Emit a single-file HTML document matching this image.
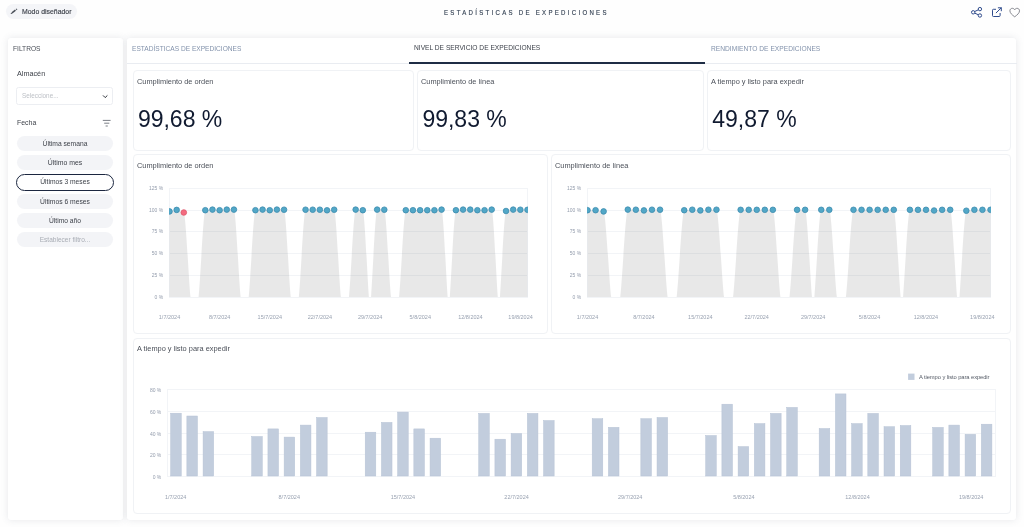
<!DOCTYPE html>
<html lang="es"><head><meta charset="utf-8"><title>Estadísticas de expediciones</title>
<style>
html,body{margin:0;padding:0;}
body{width:1024px;height:527px;position:relative;overflow:hidden;background:#fefefe;font-family:"Liberation Sans",sans-serif;}
.t{position:absolute;white-space:nowrap;}
.panel{position:absolute;background:#fff;border-radius:3px;box-shadow:0 0 7px rgba(110,116,135,0.165);}
.card{position:absolute;background:#fff;border:1px solid #f0f2f5;border-radius:4px;box-sizing:border-box;}
.pill{position:absolute;left:16.5px;width:96.6px;height:15px;border-radius:8px;background:#f3f4f7;box-sizing:border-box;}
svg{position:absolute;left:0;top:0;}
.ax{font-family:"Liberation Sans",sans-serif;font-size:6.0px;fill:#99a2b1;}
.ay{font-family:"Liberation Sans",sans-serif;font-size:5.0px;fill:#939cac;}
.lg{font-family:"Liberation Sans",sans-serif;font-size:5.8px;fill:#555b66;}
</style></head><body>

<div style="position:absolute;left:5.5px;top:4px;width:71px;height:14.6px;border-radius:8px;background:#f4f5f8"></div>
<span class="t" style="top:7.75px;font-size:7.3px;line-height:8.76px;color:#3a3f48;left:22.00px;transform:scaleX(0.9455);transform-origin:left center;-webkit-text-stroke:0.15px #3a3f48;">Modo diseñador</span>
<span class="t" style="top:9.10px;font-size:6.9px;line-height:8.28px;color:#354254;letter-spacing:2.602px;left:444.30px;transform:scaleX(0.8800);transform-origin:left center;-webkit-text-stroke:0.15px #354254;">ESTADÍSTICAS DE EXPEDICIONES</span>
<div class="panel" style="left:7.9px;top:37.8px;width:114.7px;height:482.4px"></div>
<div class="panel" style="left:127.2px;top:37.8px;width:889px;height:482.4px"></div>
<div style="position:absolute;left:127px;top:62.7px;width:889.5px;height:1px;background:#e9ecf1"></div>
<div style="position:absolute;left:408.8px;top:62px;width:296.6px;height:2px;background:#1f2d45"></div>
<span class="t" style="top:44.50px;font-size:7.2px;line-height:8.64px;color:#8292ab;left:132.00px;transform:scaleX(0.9164);transform-origin:left center;">ESTADÍSTICAS DE EXPEDICIONES</span>
<span class="t" style="top:43.60px;font-size:7.2px;line-height:8.64px;color:#3a3f48;left:413.80px;transform:scaleX(0.9244);transform-origin:left center;">NIVEL DE SERVICIO DE EXPEDICIONES</span>
<span class="t" style="top:44.50px;font-size:7.2px;line-height:8.64px;color:#8292ab;left:711.00px;transform:scaleX(0.9257);transform-origin:left center;">RENDIMIENTO DE EXPEDICIONES</span>
<span class="t" style="top:44.95px;font-size:7.3px;line-height:8.76px;color:#4a4f58;left:13.00px;transform:scaleX(0.9081);transform-origin:left center;">FILTROS</span>
<span class="t" style="top:69.50px;font-size:7.4px;line-height:8.88px;color:#3b3f47;left:16.90px;transform:scaleX(0.9795);transform-origin:left center;">Almacén</span>
<div style="position:absolute;left:16.4px;top:86.7px;width:96.9px;height:18.5px;border:1px solid #eceef2;border-radius:2.5px;box-sizing:border-box;background:#fff"></div>
<span class="t" style="top:92.40px;font-size:7.0px;line-height:8.40px;color:#bdc0c6;left:22.00px;transform:scaleX(0.9107);transform-origin:left center;">Seleccione...</span>
<span class="t" style="top:118.50px;font-size:7.4px;line-height:8.88px;color:#3b3f47;left:16.90px;transform:scaleX(0.9384);transform-origin:left center;">Fecha</span>
<div class="pill" style="top:136px"></div>
<span class="t" style="top:139.75px;font-size:7.0px;line-height:8.40px;color:#3b3f47;left:-135.20px;width:400px;text-align:center;transform:scaleX(0.9597);transform-origin:center center;">Última semana</span>
<div class="pill" style="top:155px"></div>
<span class="t" style="top:158.75px;font-size:7.0px;line-height:8.40px;color:#3b3f47;left:-135.20px;width:400px;text-align:center;transform:scaleX(0.9856);transform-origin:center center;">Último mes</span>
<div class="pill" style="top:173.5px;left:16.3px;width:97.4px;height:17.4px;background:#fff;border:1.4px solid #1c2740;border-radius:9px"></div>
<span class="t" style="top:178.45px;font-size:7.0px;line-height:8.40px;color:#3b3f47;left:-135.20px;width:400px;text-align:center;transform:scaleX(0.9568);transform-origin:center center;">Últimos 3 meses</span>
<div class="pill" style="top:194.4px"></div>
<span class="t" style="top:198.15px;font-size:7.0px;line-height:8.40px;color:#3b3f47;left:-135.20px;width:400px;text-align:center;transform:scaleX(0.9665);transform-origin:center center;">Últimos 6 meses</span>
<div class="pill" style="top:213.3px"></div>
<span class="t" style="top:217.05px;font-size:7.0px;line-height:8.40px;color:#3b3f47;left:-135.20px;width:400px;text-align:center;transform:scaleX(0.9564);transform-origin:center center;">Último año</span>
<div class="pill" style="top:232.2px"></div>
<span class="t" style="top:235.95px;font-size:7.0px;line-height:8.40px;color:#a9adb5;left:-135.20px;width:400px;text-align:center;transform:scaleX(0.9339);transform-origin:center center;">Establecer filtro...</span>
<div class="card" style="left:133px;top:70px;width:281px;height:81px"></div>
<div class="card" style="left:417px;top:70px;width:287px;height:81px"></div>
<div class="card" style="left:707px;top:70px;width:303.5px;height:81px"></div>
<div class="card" style="left:133px;top:154px;width:415px;height:180.4px"></div>
<div class="card" style="left:551px;top:154px;width:459.5px;height:180.4px"></div>
<div class="card" style="left:133px;top:338px;width:877.5px;height:176px"></div>
<span class="t" style="top:77.70px;font-size:7.4px;line-height:8.88px;color:#4a4f58;left:136.60px;transform:scaleX(0.9999);transform-origin:left center;">Cumplimiento de orden</span>
<span class="t" style="top:77.70px;font-size:7.4px;line-height:8.88px;color:#4a4f58;left:421.00px;transform:scaleX(0.9983);transform-origin:left center;">Cumplimiento de línea</span>
<span class="t" style="top:77.70px;font-size:7.4px;line-height:8.88px;color:#4a4f58;left:711.00px;transform:scaleX(1.0004);transform-origin:left center;">A tiempo y listo para expedir</span>
<span class="t" style="top:105.50px;font-size:23.0px;line-height:27.60px;color:#101a30;left:137.90px;">99,68 %</span>
<span class="t" style="top:105.50px;font-size:23.0px;line-height:27.60px;color:#101a30;left:422.40px;">99,83 %</span>
<span class="t" style="top:105.50px;font-size:23.0px;line-height:27.60px;color:#101a30;left:712.20px;">49,87 %</span>
<span class="t" style="top:161.60px;font-size:7.4px;line-height:8.88px;color:#4a4f58;left:136.60px;transform:scaleX(0.9999);transform-origin:left center;">Cumplimiento de orden</span>
<span class="t" style="top:161.60px;font-size:7.4px;line-height:8.88px;color:#4a4f58;left:555.00px;transform:scaleX(0.9983);transform-origin:left center;">Cumplimiento de línea</span>
<span class="t" style="top:345.30px;font-size:7.4px;line-height:8.88px;color:#4a4f58;left:136.60px;transform:scaleX(1.0004);transform-origin:left center;">A tiempo y listo para expedir</span>
<svg width="1024" height="527" viewBox="0 0 1024 527">
<rect x="169" y="188" width="359" height="1" fill="#f2f4f7"/>
<rect x="169" y="210" width="359" height="1" fill="#f2f4f7"/>
<rect x="169" y="231" width="359" height="1" fill="#f2f4f7"/>
<rect x="169" y="253" width="359" height="1" fill="#f2f4f7"/>
<rect x="169" y="275" width="359" height="1" fill="#f2f4f7"/>
<rect x="169" y="297" width="359" height="1" fill="#f2f4f7"/>
<rect x="169" y="188" width="1" height="110" fill="#f2f4f7"/>
<rect x="527" y="188" width="1" height="110" fill="#f2f4f7"/>
<clipPath id="c169"><rect x="169" y="180" width="359" height="117.00"/></clipPath>
<path d="M169.5 307.0 L169.50 211.40 L176.66 209.90 L183.82 212.50 C185.97 212.50 189.55 299.00 190.98 299.00 L198.14 299.00 C199.57 299.00 203.15 210.20 205.30 210.20 L212.46 209.60 L219.62 210.20 L226.78 209.60 L233.94 209.60 C236.09 209.60 239.67 299.00 241.10 299.00 L248.26 299.00 C249.69 299.00 253.27 210.20 255.42 210.20 L262.58 209.60 L269.74 210.20 L276.90 209.60 L284.06 209.70 C286.21 209.70 289.79 299.00 291.22 299.00 L298.38 299.00 C299.81 299.00 303.39 209.70 305.54 209.70 L312.70 209.70 L319.86 209.70 L327.02 210.30 L334.18 209.70 C336.33 209.70 339.91 299.00 341.34 299.00 L348.50 299.00 C349.93 299.00 353.51 209.60 355.66 209.60 L362.82 210.20 C364.97 210.20 368.55 307.00 369.98 307.00 C371.41 307.00 374.99 209.60 377.14 209.60 L384.30 209.70 C386.45 209.70 390.03 299.00 391.46 299.00 L398.62 299.00 C400.05 299.00 403.63 210.20 405.78 210.20 L412.94 210.20 L420.10 210.20 L427.26 210.20 L434.42 210.20 L441.58 209.60 C443.73 209.60 447.31 307.00 448.74 307.00 C450.17 307.00 453.75 210.20 455.90 210.20 L463.06 209.60 L470.22 209.60 L477.38 210.20 L484.54 210.20 L491.70 209.60 C493.85 209.60 497.43 307.00 498.86 307.00 C500.29 307.00 503.87 211.00 506.02 211.00 L513.18 209.60 L520.34 209.70 L527.50 209.80 L527.5 307.0Z" fill="#000" fill-opacity="0.09" clip-path="url(#c169)"/>
<g clip-path="url(#c169)"><circle cx="169.50" cy="211.40" r="2.8" fill="#52a7c7" stroke="#3c8cae" stroke-width="0.8"/><circle cx="176.66" cy="209.90" r="2.8" fill="#52a7c7" stroke="#3c8cae" stroke-width="0.8"/><circle cx="183.82" cy="212.50" r="2.8" fill="#f36b7f" stroke="#de566b" stroke-width="0.8"/><circle cx="205.30" cy="210.20" r="2.8" fill="#52a7c7" stroke="#3c8cae" stroke-width="0.8"/><circle cx="212.46" cy="209.60" r="2.8" fill="#52a7c7" stroke="#3c8cae" stroke-width="0.8"/><circle cx="219.62" cy="210.20" r="2.8" fill="#52a7c7" stroke="#3c8cae" stroke-width="0.8"/><circle cx="226.78" cy="209.60" r="2.8" fill="#52a7c7" stroke="#3c8cae" stroke-width="0.8"/><circle cx="233.94" cy="209.60" r="2.8" fill="#52a7c7" stroke="#3c8cae" stroke-width="0.8"/><circle cx="255.42" cy="210.20" r="2.8" fill="#52a7c7" stroke="#3c8cae" stroke-width="0.8"/><circle cx="262.58" cy="209.60" r="2.8" fill="#52a7c7" stroke="#3c8cae" stroke-width="0.8"/><circle cx="269.74" cy="210.20" r="2.8" fill="#52a7c7" stroke="#3c8cae" stroke-width="0.8"/><circle cx="276.90" cy="209.60" r="2.8" fill="#52a7c7" stroke="#3c8cae" stroke-width="0.8"/><circle cx="284.06" cy="209.70" r="2.8" fill="#52a7c7" stroke="#3c8cae" stroke-width="0.8"/><circle cx="305.54" cy="209.70" r="2.8" fill="#52a7c7" stroke="#3c8cae" stroke-width="0.8"/><circle cx="312.70" cy="209.70" r="2.8" fill="#52a7c7" stroke="#3c8cae" stroke-width="0.8"/><circle cx="319.86" cy="209.70" r="2.8" fill="#52a7c7" stroke="#3c8cae" stroke-width="0.8"/><circle cx="327.02" cy="210.30" r="2.8" fill="#52a7c7" stroke="#3c8cae" stroke-width="0.8"/><circle cx="334.18" cy="209.70" r="2.8" fill="#52a7c7" stroke="#3c8cae" stroke-width="0.8"/><circle cx="355.66" cy="209.60" r="2.8" fill="#52a7c7" stroke="#3c8cae" stroke-width="0.8"/><circle cx="362.82" cy="210.20" r="2.8" fill="#52a7c7" stroke="#3c8cae" stroke-width="0.8"/><circle cx="377.14" cy="209.60" r="2.8" fill="#52a7c7" stroke="#3c8cae" stroke-width="0.8"/><circle cx="384.30" cy="209.70" r="2.8" fill="#52a7c7" stroke="#3c8cae" stroke-width="0.8"/><circle cx="405.78" cy="210.20" r="2.8" fill="#52a7c7" stroke="#3c8cae" stroke-width="0.8"/><circle cx="412.94" cy="210.20" r="2.8" fill="#52a7c7" stroke="#3c8cae" stroke-width="0.8"/><circle cx="420.10" cy="210.20" r="2.8" fill="#52a7c7" stroke="#3c8cae" stroke-width="0.8"/><circle cx="427.26" cy="210.20" r="2.8" fill="#52a7c7" stroke="#3c8cae" stroke-width="0.8"/><circle cx="434.42" cy="210.20" r="2.8" fill="#52a7c7" stroke="#3c8cae" stroke-width="0.8"/><circle cx="441.58" cy="209.60" r="2.8" fill="#52a7c7" stroke="#3c8cae" stroke-width="0.8"/><circle cx="455.90" cy="210.20" r="2.8" fill="#52a7c7" stroke="#3c8cae" stroke-width="0.8"/><circle cx="463.06" cy="209.60" r="2.8" fill="#52a7c7" stroke="#3c8cae" stroke-width="0.8"/><circle cx="470.22" cy="209.60" r="2.8" fill="#52a7c7" stroke="#3c8cae" stroke-width="0.8"/><circle cx="477.38" cy="210.20" r="2.8" fill="#52a7c7" stroke="#3c8cae" stroke-width="0.8"/><circle cx="484.54" cy="210.20" r="2.8" fill="#52a7c7" stroke="#3c8cae" stroke-width="0.8"/><circle cx="491.70" cy="209.60" r="2.8" fill="#52a7c7" stroke="#3c8cae" stroke-width="0.8"/><circle cx="506.02" cy="211.00" r="2.8" fill="#52a7c7" stroke="#3c8cae" stroke-width="0.8"/><circle cx="513.18" cy="209.60" r="2.8" fill="#52a7c7" stroke="#3c8cae" stroke-width="0.8"/><circle cx="520.34" cy="209.70" r="2.8" fill="#52a7c7" stroke="#3c8cae" stroke-width="0.8"/><circle cx="527.50" cy="209.80" r="2.8" fill="#52a7c7" stroke="#3c8cae" stroke-width="0.8"/></g>
<text x="163.2" y="190.30" text-anchor="end" class="ay">125 %</text>
<text x="163.2" y="212.30" text-anchor="end" class="ay">100 %</text>
<text x="163.2" y="233.30" text-anchor="end" class="ay">75 %</text>
<text x="163.2" y="255.30" text-anchor="end" class="ay">50 %</text>
<text x="163.2" y="277.30" text-anchor="end" class="ay">25 %</text>
<text x="163.2" y="299.30" text-anchor="end" class="ay">0 %</text>
<text x="169.50" y="319.4" text-anchor="middle" class="ax" textLength="21.37" lengthAdjust="spacingAndGlyphs">1/7/2024</text>
<text x="219.65" y="319.4" text-anchor="middle" class="ax" textLength="21.37" lengthAdjust="spacingAndGlyphs">8/7/2024</text>
<text x="269.80" y="319.4" text-anchor="middle" class="ax" textLength="24.42" lengthAdjust="spacingAndGlyphs">15/7/2024</text>
<text x="319.95" y="319.4" text-anchor="middle" class="ax" textLength="24.42" lengthAdjust="spacingAndGlyphs">22/7/2024</text>
<text x="370.10" y="319.4" text-anchor="middle" class="ax" textLength="24.42" lengthAdjust="spacingAndGlyphs">29/7/2024</text>
<text x="420.25" y="319.4" text-anchor="middle" class="ax" textLength="21.37" lengthAdjust="spacingAndGlyphs">5/8/2024</text>
<text x="470.40" y="319.4" text-anchor="middle" class="ax" textLength="24.42" lengthAdjust="spacingAndGlyphs">12/8/2024</text>
<text x="520.55" y="319.4" text-anchor="middle" class="ax" textLength="24.42" lengthAdjust="spacingAndGlyphs">19/8/2024</text>
<rect x="587" y="188" width="404" height="1" fill="#f2f4f7"/>
<rect x="587" y="210" width="404" height="1" fill="#f2f4f7"/>
<rect x="587" y="231" width="404" height="1" fill="#f2f4f7"/>
<rect x="587" y="253" width="404" height="1" fill="#f2f4f7"/>
<rect x="587" y="275" width="404" height="1" fill="#f2f4f7"/>
<rect x="587" y="297" width="404" height="1" fill="#f2f4f7"/>
<rect x="587" y="188" width="1" height="110" fill="#f2f4f7"/>
<rect x="990" y="188" width="1" height="110" fill="#f2f4f7"/>
<clipPath id="c587"><rect x="587" y="180" width="404" height="117.00"/></clipPath>
<path d="M587.5 307.0 L587.50 210.20 L595.56 210.20 L603.62 211.40 C606.04 211.40 610.07 299.00 611.68 299.00 L619.74 299.00 C621.35 299.00 625.38 209.60 627.80 209.60 L635.86 209.70 L643.92 210.40 L651.98 209.70 L660.04 209.70 C662.46 209.70 666.49 299.00 668.10 299.00 L676.16 299.00 C677.77 299.00 681.80 210.20 684.22 210.20 L692.28 209.70 L700.34 210.40 L708.40 209.70 L716.46 209.70 C718.88 209.70 722.91 299.00 724.52 299.00 L732.58 299.00 C734.19 299.00 738.22 209.80 740.64 209.80 L748.70 209.80 L756.76 209.80 L764.82 209.80 L772.88 209.80 C775.30 209.80 779.33 299.00 780.94 299.00 L789.00 299.00 C790.61 299.00 794.64 209.80 797.06 209.80 L805.12 209.80 C807.54 209.80 811.57 307.00 813.18 307.00 C814.79 307.00 818.82 209.80 821.24 209.80 L829.30 209.80 C831.72 209.80 835.75 299.00 837.36 299.00 L845.42 299.00 C847.03 299.00 851.06 209.80 853.48 209.80 L861.54 209.80 L869.60 209.80 L877.66 209.80 L885.72 209.80 L893.78 209.80 C896.20 209.80 900.23 307.00 901.84 307.00 C903.45 307.00 907.48 209.80 909.90 209.80 L917.96 209.80 L926.02 209.80 L934.08 210.50 L942.14 209.80 L950.20 209.80 C952.62 209.80 956.65 307.00 958.26 307.00 C959.87 307.00 963.90 210.70 966.32 210.70 L974.38 209.80 L982.44 209.80 L990.50 209.80 L990.5 307.0Z" fill="#000" fill-opacity="0.09" clip-path="url(#c587)"/>
<g clip-path="url(#c587)"><circle cx="587.50" cy="210.20" r="2.8" fill="#52a7c7" stroke="#3c8cae" stroke-width="0.8"/><circle cx="595.56" cy="210.20" r="2.8" fill="#52a7c7" stroke="#3c8cae" stroke-width="0.8"/><circle cx="603.62" cy="211.40" r="2.8" fill="#52a7c7" stroke="#3c8cae" stroke-width="0.8"/><circle cx="627.80" cy="209.60" r="2.8" fill="#52a7c7" stroke="#3c8cae" stroke-width="0.8"/><circle cx="635.86" cy="209.70" r="2.8" fill="#52a7c7" stroke="#3c8cae" stroke-width="0.8"/><circle cx="643.92" cy="210.40" r="2.8" fill="#52a7c7" stroke="#3c8cae" stroke-width="0.8"/><circle cx="651.98" cy="209.70" r="2.8" fill="#52a7c7" stroke="#3c8cae" stroke-width="0.8"/><circle cx="660.04" cy="209.70" r="2.8" fill="#52a7c7" stroke="#3c8cae" stroke-width="0.8"/><circle cx="684.22" cy="210.20" r="2.8" fill="#52a7c7" stroke="#3c8cae" stroke-width="0.8"/><circle cx="692.28" cy="209.70" r="2.8" fill="#52a7c7" stroke="#3c8cae" stroke-width="0.8"/><circle cx="700.34" cy="210.40" r="2.8" fill="#52a7c7" stroke="#3c8cae" stroke-width="0.8"/><circle cx="708.40" cy="209.70" r="2.8" fill="#52a7c7" stroke="#3c8cae" stroke-width="0.8"/><circle cx="716.46" cy="209.70" r="2.8" fill="#52a7c7" stroke="#3c8cae" stroke-width="0.8"/><circle cx="740.64" cy="209.80" r="2.8" fill="#52a7c7" stroke="#3c8cae" stroke-width="0.8"/><circle cx="748.70" cy="209.80" r="2.8" fill="#52a7c7" stroke="#3c8cae" stroke-width="0.8"/><circle cx="756.76" cy="209.80" r="2.8" fill="#52a7c7" stroke="#3c8cae" stroke-width="0.8"/><circle cx="764.82" cy="209.80" r="2.8" fill="#52a7c7" stroke="#3c8cae" stroke-width="0.8"/><circle cx="772.88" cy="209.80" r="2.8" fill="#52a7c7" stroke="#3c8cae" stroke-width="0.8"/><circle cx="797.06" cy="209.80" r="2.8" fill="#52a7c7" stroke="#3c8cae" stroke-width="0.8"/><circle cx="805.12" cy="209.80" r="2.8" fill="#52a7c7" stroke="#3c8cae" stroke-width="0.8"/><circle cx="821.24" cy="209.80" r="2.8" fill="#52a7c7" stroke="#3c8cae" stroke-width="0.8"/><circle cx="829.30" cy="209.80" r="2.8" fill="#52a7c7" stroke="#3c8cae" stroke-width="0.8"/><circle cx="853.48" cy="209.80" r="2.8" fill="#52a7c7" stroke="#3c8cae" stroke-width="0.8"/><circle cx="861.54" cy="209.80" r="2.8" fill="#52a7c7" stroke="#3c8cae" stroke-width="0.8"/><circle cx="869.60" cy="209.80" r="2.8" fill="#52a7c7" stroke="#3c8cae" stroke-width="0.8"/><circle cx="877.66" cy="209.80" r="2.8" fill="#52a7c7" stroke="#3c8cae" stroke-width="0.8"/><circle cx="885.72" cy="209.80" r="2.8" fill="#52a7c7" stroke="#3c8cae" stroke-width="0.8"/><circle cx="893.78" cy="209.80" r="2.8" fill="#52a7c7" stroke="#3c8cae" stroke-width="0.8"/><circle cx="909.90" cy="209.80" r="2.8" fill="#52a7c7" stroke="#3c8cae" stroke-width="0.8"/><circle cx="917.96" cy="209.80" r="2.8" fill="#52a7c7" stroke="#3c8cae" stroke-width="0.8"/><circle cx="926.02" cy="209.80" r="2.8" fill="#52a7c7" stroke="#3c8cae" stroke-width="0.8"/><circle cx="934.08" cy="210.50" r="2.8" fill="#52a7c7" stroke="#3c8cae" stroke-width="0.8"/><circle cx="942.14" cy="209.80" r="2.8" fill="#52a7c7" stroke="#3c8cae" stroke-width="0.8"/><circle cx="950.20" cy="209.80" r="2.8" fill="#52a7c7" stroke="#3c8cae" stroke-width="0.8"/><circle cx="966.32" cy="210.70" r="2.8" fill="#52a7c7" stroke="#3c8cae" stroke-width="0.8"/><circle cx="974.38" cy="209.80" r="2.8" fill="#52a7c7" stroke="#3c8cae" stroke-width="0.8"/><circle cx="982.44" cy="209.80" r="2.8" fill="#52a7c7" stroke="#3c8cae" stroke-width="0.8"/><circle cx="990.50" cy="209.80" r="2.8" fill="#52a7c7" stroke="#3c8cae" stroke-width="0.8"/></g>
<text x="581.2" y="190.30" text-anchor="end" class="ay">125 %</text>
<text x="581.2" y="212.30" text-anchor="end" class="ay">100 %</text>
<text x="581.2" y="233.30" text-anchor="end" class="ay">75 %</text>
<text x="581.2" y="255.30" text-anchor="end" class="ay">50 %</text>
<text x="581.2" y="277.30" text-anchor="end" class="ay">25 %</text>
<text x="581.2" y="299.30" text-anchor="end" class="ay">0 %</text>
<text x="587.50" y="319.4" text-anchor="middle" class="ax" textLength="21.37" lengthAdjust="spacingAndGlyphs">1/7/2024</text>
<text x="643.90" y="319.4" text-anchor="middle" class="ax" textLength="21.37" lengthAdjust="spacingAndGlyphs">8/7/2024</text>
<text x="700.30" y="319.4" text-anchor="middle" class="ax" textLength="24.42" lengthAdjust="spacingAndGlyphs">15/7/2024</text>
<text x="756.70" y="319.4" text-anchor="middle" class="ax" textLength="24.42" lengthAdjust="spacingAndGlyphs">22/7/2024</text>
<text x="813.10" y="319.4" text-anchor="middle" class="ax" textLength="24.42" lengthAdjust="spacingAndGlyphs">29/7/2024</text>
<text x="869.50" y="319.4" text-anchor="middle" class="ax" textLength="21.37" lengthAdjust="spacingAndGlyphs">5/8/2024</text>
<text x="925.90" y="319.4" text-anchor="middle" class="ax" textLength="24.42" lengthAdjust="spacingAndGlyphs">12/8/2024</text>
<text x="982.30" y="319.4" text-anchor="middle" class="ax" textLength="24.42" lengthAdjust="spacingAndGlyphs">19/8/2024</text>
<rect x="167" y="476" width="829" height="1" fill="#f2f4f7"/>
<text x="161.3" y="478.60" text-anchor="end" class="ay">0 %</text>
<rect x="167" y="454" width="829" height="1" fill="#f2f4f7"/>
<text x="161.3" y="456.60" text-anchor="end" class="ay">20 %</text>
<rect x="167" y="433" width="829" height="1" fill="#f2f4f7"/>
<text x="161.3" y="435.60" text-anchor="end" class="ay">40 %</text>
<rect x="167" y="411" width="829" height="1" fill="#f2f4f7"/>
<text x="161.3" y="413.60" text-anchor="end" class="ay">60 %</text>
<rect x="167" y="389" width="829" height="1" fill="#f2f4f7"/>
<text x="161.3" y="391.60" text-anchor="end" class="ay">80 %</text>
<rect x="167" y="389" width="1" height="88" fill="#f2f4f7"/>
<rect x="995" y="389" width="1" height="88" fill="#f2f4f7"/>
<rect x="170.65" y="413.20" width="10.6" height="62.80" fill="#c2cddd" stroke="#b7c3d5" stroke-width="0.5"/>
<rect x="186.86" y="416.00" width="10.6" height="60.00" fill="#c2cddd" stroke="#b7c3d5" stroke-width="0.5"/>
<rect x="203.08" y="431.60" width="10.6" height="44.40" fill="#c2cddd" stroke="#b7c3d5" stroke-width="0.5"/>
<rect x="251.71" y="436.50" width="10.6" height="39.50" fill="#c2cddd" stroke="#b7c3d5" stroke-width="0.5"/>
<rect x="267.93" y="428.90" width="10.6" height="47.10" fill="#c2cddd" stroke="#b7c3d5" stroke-width="0.5"/>
<rect x="284.14" y="437.10" width="10.6" height="38.90" fill="#c2cddd" stroke="#b7c3d5" stroke-width="0.5"/>
<rect x="300.35" y="425.10" width="10.6" height="50.90" fill="#c2cddd" stroke="#b7c3d5" stroke-width="0.5"/>
<rect x="316.57" y="417.50" width="10.6" height="58.50" fill="#c2cddd" stroke="#b7c3d5" stroke-width="0.5"/>
<rect x="365.21" y="432.20" width="10.6" height="43.80" fill="#c2cddd" stroke="#b7c3d5" stroke-width="0.5"/>
<rect x="381.42" y="422.40" width="10.6" height="53.60" fill="#c2cddd" stroke="#b7c3d5" stroke-width="0.5"/>
<rect x="397.63" y="412.10" width="10.6" height="63.90" fill="#c2cddd" stroke="#b7c3d5" stroke-width="0.5"/>
<rect x="413.84" y="428.90" width="10.6" height="47.10" fill="#c2cddd" stroke="#b7c3d5" stroke-width="0.5"/>
<rect x="430.06" y="438.20" width="10.6" height="37.80" fill="#c2cddd" stroke="#b7c3d5" stroke-width="0.5"/>
<rect x="478.70" y="413.40" width="10.6" height="62.60" fill="#c2cddd" stroke="#b7c3d5" stroke-width="0.5"/>
<rect x="494.91" y="439.20" width="10.6" height="36.80" fill="#c2cddd" stroke="#b7c3d5" stroke-width="0.5"/>
<rect x="511.12" y="433.50" width="10.6" height="42.50" fill="#c2cddd" stroke="#b7c3d5" stroke-width="0.5"/>
<rect x="527.34" y="413.40" width="10.6" height="62.60" fill="#c2cddd" stroke="#b7c3d5" stroke-width="0.5"/>
<rect x="543.55" y="420.50" width="10.6" height="55.50" fill="#c2cddd" stroke="#b7c3d5" stroke-width="0.5"/>
<rect x="592.19" y="418.70" width="10.6" height="57.30" fill="#c2cddd" stroke="#b7c3d5" stroke-width="0.5"/>
<rect x="608.40" y="427.30" width="10.6" height="48.70" fill="#c2cddd" stroke="#b7c3d5" stroke-width="0.5"/>
<rect x="640.83" y="418.70" width="10.6" height="57.30" fill="#c2cddd" stroke="#b7c3d5" stroke-width="0.5"/>
<rect x="657.04" y="417.50" width="10.6" height="58.50" fill="#c2cddd" stroke="#b7c3d5" stroke-width="0.5"/>
<rect x="705.68" y="435.50" width="10.6" height="40.50" fill="#c2cddd" stroke="#b7c3d5" stroke-width="0.5"/>
<rect x="721.89" y="404.20" width="10.6" height="71.80" fill="#c2cddd" stroke="#b7c3d5" stroke-width="0.5"/>
<rect x="738.11" y="446.60" width="10.6" height="29.40" fill="#c2cddd" stroke="#b7c3d5" stroke-width="0.5"/>
<rect x="754.32" y="423.60" width="10.6" height="52.40" fill="#c2cddd" stroke="#b7c3d5" stroke-width="0.5"/>
<rect x="770.53" y="413.40" width="10.6" height="62.60" fill="#c2cddd" stroke="#b7c3d5" stroke-width="0.5"/>
<rect x="786.74" y="407.40" width="10.6" height="68.60" fill="#c2cddd" stroke="#b7c3d5" stroke-width="0.5"/>
<rect x="819.17" y="428.50" width="10.6" height="47.50" fill="#c2cddd" stroke="#b7c3d5" stroke-width="0.5"/>
<rect x="835.38" y="393.90" width="10.6" height="82.10" fill="#c2cddd" stroke="#b7c3d5" stroke-width="0.5"/>
<rect x="851.60" y="423.60" width="10.6" height="52.40" fill="#c2cddd" stroke="#b7c3d5" stroke-width="0.5"/>
<rect x="867.81" y="413.40" width="10.6" height="62.60" fill="#c2cddd" stroke="#b7c3d5" stroke-width="0.5"/>
<rect x="884.02" y="426.70" width="10.6" height="49.30" fill="#c2cddd" stroke="#b7c3d5" stroke-width="0.5"/>
<rect x="900.24" y="425.50" width="10.6" height="50.50" fill="#c2cddd" stroke="#b7c3d5" stroke-width="0.5"/>
<rect x="932.66" y="427.40" width="10.6" height="48.60" fill="#c2cddd" stroke="#b7c3d5" stroke-width="0.5"/>
<rect x="948.87" y="425.10" width="10.6" height="50.90" fill="#c2cddd" stroke="#b7c3d5" stroke-width="0.5"/>
<rect x="965.09" y="434.30" width="10.6" height="41.70" fill="#c2cddd" stroke="#b7c3d5" stroke-width="0.5"/>
<rect x="981.30" y="424.20" width="10.6" height="51.80" fill="#c2cddd" stroke="#b7c3d5" stroke-width="0.5"/>
<text x="175.62" y="498.5" text-anchor="middle" class="ax" textLength="21.37" lengthAdjust="spacingAndGlyphs">1/7/2024</text>
<text x="289.26" y="498.5" text-anchor="middle" class="ax" textLength="21.37" lengthAdjust="spacingAndGlyphs">8/7/2024</text>
<text x="402.91" y="498.5" text-anchor="middle" class="ax" textLength="24.42" lengthAdjust="spacingAndGlyphs">15/7/2024</text>
<text x="516.56" y="498.5" text-anchor="middle" class="ax" textLength="24.42" lengthAdjust="spacingAndGlyphs">22/7/2024</text>
<text x="630.21" y="498.5" text-anchor="middle" class="ax" textLength="24.42" lengthAdjust="spacingAndGlyphs">29/7/2024</text>
<text x="743.85" y="498.5" text-anchor="middle" class="ax" textLength="21.37" lengthAdjust="spacingAndGlyphs">5/8/2024</text>
<text x="857.50" y="498.5" text-anchor="middle" class="ax" textLength="24.42" lengthAdjust="spacingAndGlyphs">12/8/2024</text>
<text x="971.15" y="498.5" text-anchor="middle" class="ax" textLength="24.42" lengthAdjust="spacingAndGlyphs">19/8/2024</text>
<rect x="908.1" y="373.6" width="6.4" height="6.3" fill="#c2cddd"/>
<text x="919" y="379" class="lg" textLength="70.5" lengthAdjust="spacing">A tiempo y listo para expedir</text>
<g stroke="#4a4f58" stroke-width="1.5" fill="#4a4f58"><line x1="12.0" y1="12.9" x2="15.5" y2="10.2"/><line x1="16.2" y1="9.65" x2="16.9" y2="9.1"/><path d="M10.6 14.1 L11.3 12.5 L12.5 13.7 Z" stroke="none"/></g>
<path d="M103.3 95.7 L105.2 97.6 L107.1 95.7" fill="none" stroke="#2a2e36" stroke-width="1" stroke-linecap="round" stroke-linejoin="round"/>
<g stroke="#5a5f68" stroke-width="0.8"><line x1="102.8" x2="110.6" y1="120.4" y2="120.4"/><line x1="104.2" x2="109.3" y1="123.2" y2="123.2"/><line x1="105.6" x2="107.8" y1="126" y2="126"/></g>
<g fill="none" stroke="#2f4b8c" stroke-width="1"><circle cx="979.9" cy="9.1" r="1.7"/><circle cx="973.2" cy="12.3" r="1.7"/><circle cx="979.9" cy="15.5" r="1.7"/><line x1="974.7" y1="11.5" x2="978.4" y2="9.8"/><line x1="974.7" y1="13.1" x2="978.4" y2="14.8"/></g>
<g fill="none" stroke="#2f4b8c" stroke-width="1" stroke-linejoin="round" stroke-linecap="round"><path d="M995.6 9.3 H993.4 Q992.5 9.3 992.5 10.2 V15.6 Q992.5 16.5 993.4 16.5 H999.2 Q1000.1 16.5 1000.1 15.6 V13.4"/><path d="M996.2 12.8 L1001.2 7.9"/><path d="M998.3 7.8 H1001.3 V10.8"/></g>
<path d="M1014.7 16.8 C1012 14.8 1009.9 13 1009.9 10.8 C1009.9 9.3 1011 8.3 1012.3 8.3 C1013.3 8.3 1014.2 8.9 1014.7 9.8 C1015.2 8.9 1016.1 8.3 1017.1 8.3 C1018.4 8.3 1019.5 9.3 1019.5 10.8 C1019.5 13 1017.4 14.8 1014.7 16.8 Z" fill="none" stroke="#7a7d84" stroke-width="0.9" stroke-linejoin="round"/>
</svg>
</body></html>
